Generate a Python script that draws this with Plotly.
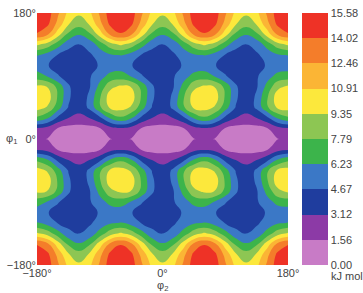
import plotly.graph_objects as go

phi2 = [-180, -165, -150, -135, -120, -105, -90, -75, -60, -45, -30, -15, 0,
        15, 30, 45, 60, 75, 90, 105, 120, 135, 150, 165, 180]
phi1 = [-180, -165, -150, -135, -120, -105, -90, -75, -60, -45, -30, -15, 0,
        15, 30, 45, 60, 75, 90, 105, 120, 135, 150, 165, 180]

# energy (kJ/mol) rows follow phi1 (bottom -> top), columns follow phi2
energy = [
    [15.5, 14.8, 12.7, 10.5, 9.6, 10.5, 12.7, 14.8, 15.5, 14.8, 12.7, 10.5, 9.6, 10.5, 12.7, 14.8, 15.5, 14.8, 12.7, 10.5, 9.6, 10.5, 12.7, 14.8, 15.5],
    [15.2, 14.4, 12.0, 9.5, 8.5, 9.5, 12.0, 14.4, 15.2, 14.4, 12.0, 9.5, 8.5, 9.5, 12.0, 14.4, 15.2, 14.4, 12.0, 9.5, 8.5, 9.5, 12.0, 14.4, 15.2],
    [13.9, 12.8, 10.1, 7.5, 6.4, 7.5, 10.1, 12.8, 13.9, 12.8, 10.1, 7.5, 6.4, 7.5, 10.1, 12.8, 13.9, 12.8, 10.1, 7.5, 6.4, 7.5, 10.1, 12.8, 13.9],
    [9.6, 8.7, 6.9, 5.2, 4.6, 5.2, 6.9, 8.7, 9.6, 8.7, 6.9, 5.2, 4.6, 5.2, 6.9, 8.7, 9.6, 8.7, 6.9, 5.2, 4.6, 5.2, 6.9, 8.7, 9.6],
    [6.3, 5.59, 4.6, 4.04, 4.1, 4.46, 5.2, 6.01, 6.3, 5.59, 4.6, 4.04, 4.1, 4.46, 5.2, 6.01, 6.3, 5.59, 4.6, 4.04, 4.1, 4.46, 5.2, 6.01, 6.3],
    [5.4, 4.77, 4.0, 3.62, 3.8, 4.18, 4.8, 5.33, 5.4, 4.77, 4.0, 3.62, 3.8, 4.18, 4.8, 5.33, 5.4, 4.77, 4.0, 3.62, 3.8, 4.18, 4.8, 5.33, 5.4],
    [6.9, 6.12, 4.8, 3.92, 3.9, 4.48, 5.6, 6.68, 6.9, 6.12, 4.8, 3.92, 3.9, 4.48, 5.6, 6.68, 6.9, 6.12, 4.8, 3.92, 3.9, 4.48, 5.6, 6.68, 6.9],
    [9.6, 9.31, 7.3, 4.91, 3.5, 4.49, 6.7, 8.89, 9.6, 9.31, 7.3, 4.91, 3.5, 4.49, 6.7, 8.89, 9.6, 9.31, 7.3, 4.91, 3.5, 4.49, 6.7, 8.89, 9.6],
    [10.8, 10.2, 7.6, 5.0, 3.4, 5.0, 7.6, 10.2, 10.8, 10.2, 7.6, 5.0, 3.4, 5.0, 7.6, 10.2, 10.8, 10.2, 7.6, 5.0, 3.4, 5.0, 7.6, 10.2, 10.8],
    [10.0, 9.19, 6.9, 4.59, 3.4, 5.01, 7.5, 9.61, 10.0, 9.19, 6.9, 4.59, 3.4, 5.01, 7.5, 9.61, 10.0, 9.19, 6.9, 4.59, 3.4, 5.01, 7.5, 9.61, 10.0],
    [7.5, 6.4, 4.3, 3.1, 2.9, 3.1, 4.3, 6.4, 7.5, 6.4, 4.3, 3.1, 2.9, 3.1, 4.3, 6.4, 7.5, 6.4, 4.3, 3.1, 2.9, 3.1, 4.3, 6.4, 7.5],
    [2.9, 2.5, 1.45, 0.95, 0.8, 0.95, 1.45, 2.5, 2.9, 2.5, 1.45, 0.95, 0.8, 0.95, 1.45, 2.5, 2.9, 2.5, 1.45, 0.95, 0.8, 0.95, 1.45, 2.5, 2.9],
    [1.8, 1.5, 0.7, 0.15, 0.0, 0.15, 0.7, 1.5, 1.8, 1.5, 0.7, 0.15, 0.0, 0.15, 0.7, 1.5, 1.8, 1.5, 0.7, 0.15, 0.0, 0.15, 0.7, 1.5, 1.8],
    [2.9, 2.5, 1.45, 0.95, 0.8, 0.95, 1.45, 2.5, 2.9, 2.5, 1.45, 0.95, 0.8, 0.95, 1.45, 2.5, 2.9, 2.5, 1.45, 0.95, 0.8, 0.95, 1.45, 2.5, 2.9],
    [7.5, 6.4, 4.3, 3.1, 2.9, 3.1, 4.3, 6.4, 7.5, 6.4, 4.3, 3.1, 2.9, 3.1, 4.3, 6.4, 7.5, 6.4, 4.3, 3.1, 2.9, 3.1, 4.3, 6.4, 7.5],
    [10.0, 9.19, 6.9, 4.59, 3.4, 5.01, 7.5, 9.61, 10.0, 9.19, 6.9, 4.59, 3.4, 5.01, 7.5, 9.61, 10.0, 9.19, 6.9, 4.59, 3.4, 5.01, 7.5, 9.61, 10.0],
    [10.8, 10.2, 7.6, 5.0, 3.4, 5.0, 7.6, 10.2, 10.8, 10.2, 7.6, 5.0, 3.4, 5.0, 7.6, 10.2, 10.8, 10.2, 7.6, 5.0, 3.4, 5.0, 7.6, 10.2, 10.8],
    [9.6, 9.31, 7.3, 4.91, 3.5, 4.49, 6.7, 8.89, 9.6, 9.31, 7.3, 4.91, 3.5, 4.49, 6.7, 8.89, 9.6, 9.31, 7.3, 4.91, 3.5, 4.49, 6.7, 8.89, 9.6],
    [6.9, 6.12, 4.8, 3.92, 3.9, 4.48, 5.6, 6.68, 6.9, 6.12, 4.8, 3.92, 3.9, 4.48, 5.6, 6.68, 6.9, 6.12, 4.8, 3.92, 3.9, 4.48, 5.6, 6.68, 6.9],
    [5.4, 4.77, 4.0, 3.62, 3.8, 4.18, 4.8, 5.33, 5.4, 4.77, 4.0, 3.62, 3.8, 4.18, 4.8, 5.33, 5.4, 4.77, 4.0, 3.62, 3.8, 4.18, 4.8, 5.33, 5.4],
    [6.3, 5.59, 4.6, 4.04, 4.1, 4.46, 5.2, 6.01, 6.3, 5.59, 4.6, 4.04, 4.1, 4.46, 5.2, 6.01, 6.3, 5.59, 4.6, 4.04, 4.1, 4.46, 5.2, 6.01, 6.3],
    [9.6, 8.7, 6.9, 5.2, 4.6, 5.2, 6.9, 8.7, 9.6, 8.7, 6.9, 5.2, 4.6, 5.2, 6.9, 8.7, 9.6, 8.7, 6.9, 5.2, 4.6, 5.2, 6.9, 8.7, 9.6],
    [13.9, 12.8, 10.1, 7.5, 6.4, 7.5, 10.1, 12.8, 13.9, 12.8, 10.1, 7.5, 6.4, 7.5, 10.1, 12.8, 13.9, 12.8, 10.1, 7.5, 6.4, 7.5, 10.1, 12.8, 13.9],
    [15.2, 14.4, 12.0, 9.5, 8.5, 9.5, 12.0, 14.4, 15.2, 14.4, 12.0, 9.5, 8.5, 9.5, 12.0, 14.4, 15.2, 14.4, 12.0, 9.5, 8.5, 9.5, 12.0, 14.4, 15.2],
    [15.5, 14.8, 12.7, 10.5, 9.6, 10.5, 12.7, 14.8, 15.5, 14.8, 12.7, 10.5, 9.6, 10.5, 12.7, 14.8, 15.5, 14.8, 12.7, 10.5, 9.6, 10.5, 12.7, 14.8, 15.5],
]

levels = [0.0, 1.558, 3.116, 4.674, 6.232, 7.79, 9.348, 10.906, 12.464, 14.022, 15.58]
level_labels = ["0.00", "1.56", "3.12", "4.67", "6.23", "7.79", "9.35", "10.91", "12.46", "14.02", "15.58"]
band_colors = ["#c87bc6", "#8c3aa6", "#1f3d9e", "#3b78c6", "#3cb44b",
               "#8dc653", "#fce83c", "#fbb535", "#f47d2a", "#ee3226"]
tick_vals_x = [-180, 0, 180]
tick_text_x = ["\u2212180\u00b0", "0\u00b0", "180\u00b0"]

n = len(band_colors)
colorscale = []
for i, c in enumerate(band_colors):
    colorscale.append([i / n, c])
    colorscale.append([(i + 1) / n, c])

fig = go.Figure(go.Contour(
    x=phi2, y=phi1, z=energy,
    zmin=levels[0], zmax=levels[-1],
    autocontour=False,
    contours=dict(start=levels[0], end=levels[-1], size=levels[1] - levels[0],
                  coloring="fill", showlines=False),
    line=dict(width=0, smoothing=1.3),
    colorscale=colorscale,
    colorbar=dict(
        tickmode="array", tickvals=levels, ticktext=level_labels,
        x=1.0545, xanchor="left", y=0.5, yanchor="middle",
        len=1, lenmode="fraction", thickness=26, thicknessmode="pixels",
        outlinewidth=0, ticks="", xpad=0, ypad=0,
        tickfont=dict(size=11, color="#444"),
    ),
))

fig.update_layout(
    width=363, height=293,
    margin=dict(l=31, r=75, t=7, b=28),
    paper_bgcolor="white", plot_bgcolor="white",
    font=dict(family="Liberation Sans, Arial, sans-serif", size=11, color="#444"),
    xaxis=dict(range=[-180, 180], tickmode="array", tickvals=tick_vals_x,
               ticktext=tick_text_x, showgrid=False, zeroline=False,
               ticks="", showline=False),
    yaxis=dict(range=[-180, 180], tickmode="array", tickvals=tick_vals_x,
               ticktext=tick_text_x, showgrid=False, zeroline=False,
               ticks="", showline=False),
    annotations=[
        dict(text="\u03c6<sub>1</sub>", xref="paper", yref="paper",
             x=-0.1, y=0.5, showarrow=False, xanchor="center", yanchor="middle"),
        dict(text="\u03c6<sub>2</sub>", xref="paper", yref="paper",
             x=0.5, y=-0.085, showarrow=False, xanchor="center", yanchor="middle"),
        dict(text="kJ mol<sup>\u22121</sup>", xref="paper", yref="paper",
             x=1.163, y=-0.04, showarrow=False, xanchor="left", yanchor="middle"),
    ],
)

fig.write_html("out.html")
